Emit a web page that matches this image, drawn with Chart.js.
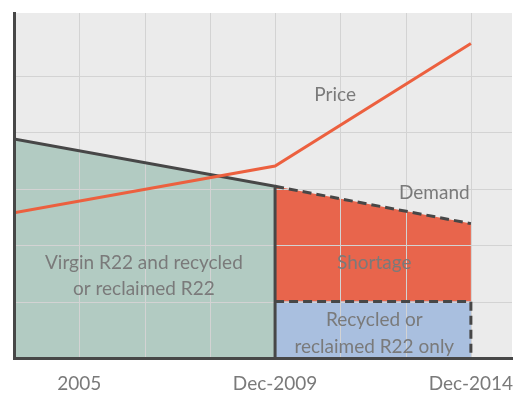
<!DOCTYPE html>
<html>
<head>
<meta charset="utf-8">
<script src="https://cdn.jsdelivr.net/npm/chart.js@4/dist/chart.umd.min.js"></script>
<style>
  html, body { margin: 0; padding: 0; background: #fff; }
  #wrap { width: 519px; height: 394px; }
</style>
</head>
<body>
<div id="wrap"><canvas id="r22"></canvas></div>
<script>
// x runs in grid steps (one step ~ 1.7 years), y is an index of volume / price
const tickValues = [1, 4, 7];
const tickLabels = ['2005', 'Dec-2009', 'Dec-2014'];

const demandX = [0, 4, 7];
const demandY = [3.88, 3.04, 2.38];

const priceX = [0, 4, 7];
const priceY = [2.57, 3.40, 5.57];

const recycledX = [4, 7];
const recycledY = [1, 1];

const colors = {
  bg:       '#ebebeb',
  grid:     '#d3d3d3',
  axis:     '#474747',
  green:    '#b2cbc2',
  red:      '#e8654c',
  blue:     '#a9bfdf',
  price:    '#ec603f',
  text:     '#7a7a7a'
};

const FONT = "Lato, 'Noto Sans', sans-serif";

const pts = (xs, ys) => xs.map((x, i) => ({ x, y: ys[i] }));

// virgin + recycled supply until the cut-off, closed down to the axis
const virginData = pts(demandX.slice(0, 2), demandY.slice(0, 2));
virginData.push({ x: demandX[1], y: 0 });

// recycled-only supply after the cut-off, closed down to the axis on the right
const recycledData = pts(recycledX, recycledY);
recycledData.push({ x: recycledX[1], y: 0 });

// plot background and gridlines sit under the outlines but over the fills
const backdrop = {
  id: 'backdrop',
  beforeDraw(chart) {
    const { ctx, chartArea: a } = chart;
    ctx.save();
    ctx.fillStyle = colors.bg;
    ctx.fillRect(a.left, a.top, a.right - a.left, a.bottom - a.top);
    ctx.restore();
  },
  beforeDatasetsDraw(chart) {
    const { ctx, chartArea: a, scales: { x, y } } = chart;
    ctx.save();
    ctx.strokeStyle = colors.grid;
    ctx.lineWidth = 1;
    ctx.beginPath();
    x.ticks.forEach(t => {
      if (t.value <= 0 || !Number.isInteger(t.value)) return;
      const px = Math.round(x.getPixelForValue(t.value)) + 0.5;
      ctx.moveTo(px, a.top);
      ctx.lineTo(px, a.bottom);
    });
    y.ticks.forEach(t => {
      if (t.value <= 0 || !Number.isInteger(t.value)) return;
      const py = Math.round(y.getPixelForValue(t.value)) + 0.5;
      if (py - a.top < 10) return;
      ctx.moveTo(a.left, py);
      ctx.lineTo(a.right, py);
    });
    ctx.stroke();
    ctx.restore();
  }
};

// area and line captions
const captions = [
  { lines: ['Price'], x: 4.92, y: 4.66 },
  { lines: ['Demand'], x: 6.44, y: 2.92 },
  { lines: ['Virgin R22 and recycled', 'or reclaimed R22'], x: 1.99, y: 1.69 },
  { lines: ['Shortage'], x: 5.52, y: 1.69 },
  { lines: ['Recycled or', 'reclaimed R22 only'], x: 5.52, y: 0.67 }
];

const labels = {
  id: 'labels',
  afterDatasetsDraw(chart) {
    const { ctx, scales: { x, y } } = chart;
    ctx.save();
    ctx.fillStyle = colors.text;
    ctx.font = '19px ' + FONT;
    ctx.textAlign = 'center';
    ctx.textBaseline = 'middle';
    captions.forEach(c => {
      const px = x.getPixelForValue(c.x);
      const py = y.getPixelForValue(c.y);
      c.lines.forEach((ln, i) => ctx.fillText(ln, px, py + i * 26.5));
    });
    ctx.restore();
  }
};

new Chart(document.getElementById('r22'), {
  type: 'line',
  data: {
    datasets: [
      {
        label: 'Price',
        data: pts(priceX, priceY),
        borderColor: colors.price,
        borderWidth: 3,
        fill: false,
        order: 0
      },
      {
        label: 'Virgin R22 and recycled or reclaimed R22',
        data: virginData,
        borderColor: colors.axis,
        borderWidth: 3,
        backgroundColor: colors.green,
        fill: 'origin',
        order: 1
      },
      {
        label: 'Recycled or reclaimed R22 only',
        data: recycledData,
        borderColor: colors.axis,
        borderWidth: 3,
        borderDash: [9, 5],
        backgroundColor: colors.blue,
        fill: 'origin',
        order: 2
      },
      {
        label: 'Shortage',
        data: pts(demandX.slice(1), demandY.slice(1)),
        borderColor: colors.axis,
        borderWidth: 3,
        borderDash: [9, 5],
        backgroundColor: colors.red,
        fill: { value: recycledY[0] },
        order: 3
      }
    ]
  },
  options: {
    responsive: true,
    maintainAspectRatio: false,
    animation: false,
    events: [],
    layout: { padding: { left: 14, right: 7, top: 13, bottom: 0 } },
    elements: { point: { radius: 0 }, line: { tension: 0 } },
    plugins: {
      legend: { display: false },
      tooltip: { enabled: false },
      filler: { drawTime: 'beforeDatasetsDraw' }
    },
    scales: {
      x: {
        type: 'linear',
        min: 0,
        max: 7.63,
        grid: { display: false, drawTicks: false },
        border: { display: true, color: colors.axis, width: 3, z: 1 },
        ticks: {
          stepSize: 1,
          includeBounds: false,
          autoSkip: false,
          maxRotation: 0,
          padding: 14,
          color: colors.text,
          font: { family: FONT, size: 19 },
          callback: (v) => {
            const i = tickValues.indexOf(v);
            return i >= 0 ? tickLabels[i] : '';
          }
        },
        afterFit: (s) => { s.height = 36; s.paddingRight = 0; s.paddingLeft = 0; }
      },
      y: {
        min: 0,
        max: 6.11,
        grid: { display: false, drawTicks: false },
        border: { display: true, color: colors.axis, width: 3, z: 1 },
        ticks: { display: false, stepSize: 1 },
        afterFit: (s) => { s.width = 0; }
      }
    }
  },
  plugins: [backdrop, labels]
});
</script>
</body>
</html>
